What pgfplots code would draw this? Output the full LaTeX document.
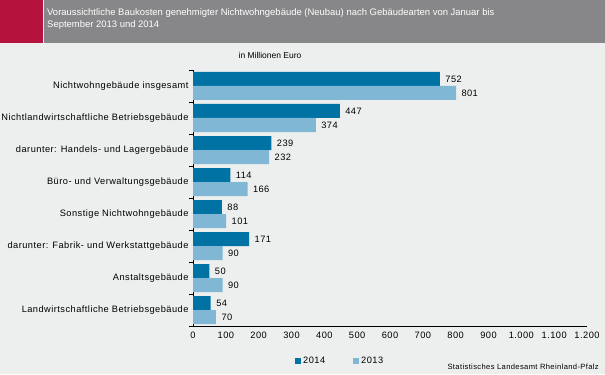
\documentclass[border=0pt]{standalone}
\usepackage{fontspec}
\setmainfont{Liberation Sans}
\newfontfamily\lab[LetterSpace=5]{Liberation Sans}
\usepackage{pgfplots}
\pgfplotsset{compat=1.18}
\definecolor{bg}{RGB}{237,238,238}
\definecolor{band}{RGB}{135,135,137}
\definecolor{crim}{RGB}{181,18,62}
\definecolor{dark}{RGB}{0,114,163}
\definecolor{light}{RGB}{127,183,212}
\begin{document}
\begin{tikzpicture}[x=1bp,y=1bp]
\useasboundingbox (0,0) rectangle (605,374);
\fill[bg] (0,0) rectangle (605,374);
\fill[crim] (0,331) rectangle (43,374);
\fill[band] (44,331) rectangle (605,374);
\node[anchor=north west, text=white, align=left, font=\fontsize{9.5}{12}\selectfont, inner sep=0] at (47,366) {Voraussichtliche Baukosten genehmigter Nichtwohngebäude (Neubau) nach Gebäudearten von Januar bis\\September 2013 und 2014};
\node[font=\fontsize{8.5}{10}\selectfont] at (270,319) {in Millionen Euro};
\node[anchor=east, font=\lab\fontsize{7.6}{9}\selectfont, inner sep=0] at (599,7) {Statistisches Landesamt Rheinland-Pfalz};
\begin{axis}[
  at={(193bp,48bp)}, anchor=south west, scale only axis,
  width=394bp, height=256bp,
  xmin=0, xmax=1200, ymin=-0.5, ymax=7.5,
  xbar, bar width=14bp,
  axis x line*=bottom, axis y line*=left, axis line style={-, black},
  xtick={0,100,...,1200}, ytick={0,...,7},
  yticklabels={Landwirtschaftliche Betriebsgebäude, Anstaltsgebäude, {darunter: Fabrik- und Werkstattgebäude}, Sonstige Nichtwohngebäude, Büro- und Verwaltungsgebäude, {darunter: Handels- und Lagergebäude}, Nichtlandwirtschaftliche Betriebsgebäude, Nichtwohngebäude insgesamt},
  minor ytick={-0.5,0.5,...,7.5},
  major tick length=0pt, minor tick length=4bp, tick align=outside,
  tick style={black},
  /pgf/number format/assume math mode=true,
  /pgf/number format/.cd, use period, 1000 sep={.},
  /pgfplots/.cd,
  ticklabel style={font=\lab\fontsize{9.3}{10}\selectfont},
  yticklabel style={xshift=-1bp},
  xticklabel style={yshift=-3bp},
  nodes near coords,
  every node near coord/.append style={font=\lab\fontsize{9.3}{10}\selectfont, anchor=west, xshift=2bp, black},
  legend columns=2,
  legend style={at={(axis description cs:0.259,-0.137)}, anchor=west, draw=none, fill=none, font=\lab\fontsize{9.3}{10}\selectfont, /tikz/every even column/.append style={column sep=26bp}, inner sep=0pt},
  legend image code/.code={\fill[#1] (0bp,-3bp) rectangle (6bp,3bp);},
]
\addplot[fill=dark, draw=none, bar shift=7bp] coordinates {(54,0) (50,1) (171,2) (88,3) (114,4) (239,5) (447,6) (752,7)};
\addplot[fill=light, draw=none, bar shift=-7bp] coordinates {(70,0) (90,1) (90,2) (101,3) (166,4) (232,5) (374,6) (801,7)};
\legend{2014, 2013}
\end{axis}
\end{tikzpicture}
\end{document}
